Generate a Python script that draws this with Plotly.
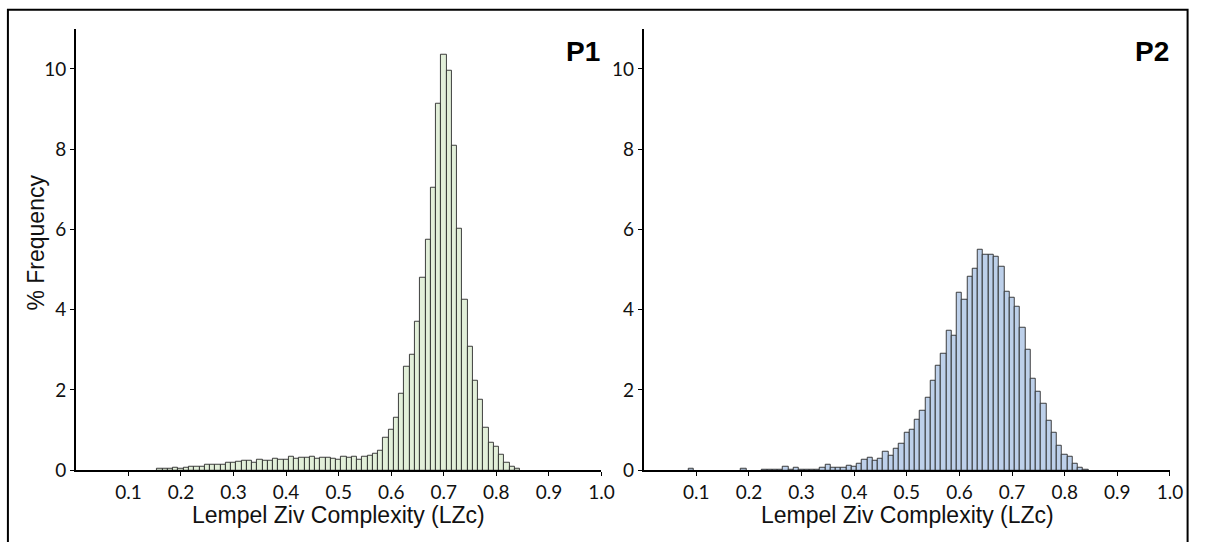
import plotly.graph_objects as go

# ---- data ----
p1_lzc = [0.16, 0.17, 0.18, 0.19, 0.20, 0.21, 0.22, 0.23, 0.24, 0.25, 0.26, 0.27, 0.28, 0.29,
          0.30, 0.31, 0.32, 0.33, 0.34, 0.35, 0.36, 0.37, 0.38, 0.39, 0.40, 0.41, 0.42, 0.43,
          0.44, 0.45, 0.46, 0.47, 0.48, 0.49, 0.50, 0.51, 0.52, 0.53, 0.54, 0.55, 0.56, 0.57,
          0.58, 0.59, 0.60, 0.61, 0.62, 0.63, 0.64, 0.65, 0.66, 0.67, 0.68, 0.69, 0.70, 0.71,
          0.72, 0.73, 0.74, 0.75, 0.76, 0.77, 0.78, 0.79, 0.80, 0.81, 0.82, 0.83, 0.84]
p1_freq = [0.05, 0.05, 0.05, 0.07, 0.04, 0.07, 0.10, 0.10, 0.10, 0.15, 0.15, 0.15, 0.13, 0.19,
           0.19, 0.21, 0.24, 0.24, 0.18, 0.26, 0.24, 0.24, 0.29, 0.26, 0.26, 0.34, 0.28, 0.31,
           0.31, 0.34, 0.28, 0.31, 0.31, 0.29, 0.26, 0.34, 0.32, 0.34, 0.26, 0.33, 0.37, 0.41,
           0.49, 0.81, 1.01, 1.32, 1.91, 2.57, 2.87, 3.69, 4.80, 5.75, 7.05, 9.14, 10.36, 9.96,
           8.08, 6.01, 4.25, 3.08, 2.23, 1.75, 1.07, 0.68, 0.59, 0.38, 0.18, 0.08, 0.03]

p2_lzc = [0.09, 0.19, 0.23, 0.24, 0.25, 0.26, 0.27, 0.28, 0.29, 0.30, 0.31, 0.32, 0.33, 0.34,
          0.35, 0.36, 0.37, 0.38, 0.39, 0.40, 0.41, 0.42, 0.43, 0.44, 0.45, 0.46, 0.47, 0.48,
          0.49, 0.50, 0.51, 0.52, 0.53, 0.54, 0.55, 0.56, 0.57, 0.58, 0.59, 0.60, 0.61, 0.62,
          0.63, 0.64, 0.65, 0.66, 0.67, 0.68, 0.69, 0.70, 0.71, 0.72, 0.73, 0.74, 0.75, 0.76,
          0.77, 0.78, 0.79, 0.80, 0.81, 0.82, 0.83, 0.84]
p2_freq = [0.03, 0.03, 0.015, 0.015, 0.015, 0.015, 0.08, 0.02, 0.06, 0.02, 0.02, 0.02, 0.02, 0.06,
           0.14, 0.06, 0.06, 0.06, 0.12, 0.08, 0.16, 0.26, 0.31, 0.24, 0.30, 0.46, 0.36, 0.53,
           0.67, 0.93, 1.01, 1.26, 1.48, 1.82, 2.23, 2.61, 2.91, 3.47, 3.34, 4.42, 4.25, 4.81,
           5.03, 5.49, 5.36, 5.36, 5.32, 5.06, 4.45, 4.31, 4.07, 3.55, 3.01, 2.29, 1.95, 1.66,
           1.23, 0.93, 0.62, 0.40, 0.34, 0.16, 0.06, 0.01]

x_ticks = [0.1, 0.2, 0.3, 0.4, 0.5, 0.6, 0.7, 0.8, 0.9, 1.0]
x_ticktext = ["0.1", "0.2", "0.3", "0.4", "0.5", "0.6", "0.7", "0.8", "0.9", "1.0"]
y_ticks = [0, 2, 4, 6, 8, 10]
panel_labels = ["P1", "P2"]
x_title = "Lempel Ziv Complexity (LZc)"
y_title = "% Frequency"

W, H = 1209, 542
def px(x):
    return x / W
def py(y):
    return 1 - y / H

fig = go.Figure()
fig.add_trace(go.Bar(x=p1_lzc, y=p1_freq, width=0.01, xaxis="x", yaxis="y",
                     marker=dict(color="#e2efd9", line=dict(color="#2a2a2a", width=0.9)),
                     showlegend=False))
fig.add_trace(go.Bar(x=p2_lzc, y=p2_freq, width=0.01, xaxis="x2", yaxis="y2",
                     marker=dict(color="#bdd0ea", line=dict(color="#2a2a2a", width=0.9)),
                     showlegend=False))

tickfont = dict(family="Lato", size=19, color="#111")
xcommon = dict(range=[0, 1.0], tickvals=x_ticks, ticktext=x_ticktext, showline=True,
               linecolor="black", linewidth=1.6, ticks="outside", ticklen=4, tickwidth=1.2,
               tickcolor="black", showgrid=False, zeroline=False, tickfont=tickfont, fixedrange=True)
ycommon = dict(range=[0, 11], tickvals=y_ticks, showline=True, linecolor="black", linewidth=1.6,
               ticks="outside", ticklen=4, tickwidth=1.2, tickcolor="black", showgrid=False,
               zeroline=False, tickfont=tickfont, domain=[py(480), py(29.3)], fixedrange=True)

fig.update_layout(
    width=W, height=H, autosize=False,
    margin=dict(l=0, r=0, t=0, b=0),
    paper_bgcolor="white", plot_bgcolor="white",
    bargap=0,
    xaxis=dict(domain=[px(76.7), px(608)], anchor="y", **xcommon),
    xaxis2=dict(domain=[px(650.7), px(1182.7)], anchor="y2", **xcommon),
    yaxis=dict(anchor="x", **ycommon),
    yaxis2=dict(anchor="x2", **ycommon),
    shapes=[dict(type="rect", xref="paper", yref="paper", x0=px(8), x1=px(1200.5),
                 y0=-0.05, y1=py(10), line=dict(color="black", width=2))],
    annotations=[
        dict(text="<b>%s</b>" % panel_labels[0], x=px(609), y=py(53), xref="paper", yref="paper",
             xanchor="right", yanchor="middle", showarrow=False,
             font=dict(family="Liberation Sans", size=28, color="black")),
        dict(text="<b>%s</b>" % panel_labels[1], x=px(1184), y=py(53), xref="paper", yref="paper",
             xanchor="right", yanchor="middle", showarrow=False,
             font=dict(family="Liberation Sans", size=28, color="black")),
        dict(text=x_title, x=px(342), y=py(526), xref="paper", yref="paper",
             xanchor="center", yanchor="middle", showarrow=False,
             font=dict(family="Liberation Sans", size=23, color="#111")),
        dict(text=x_title, x=px(917), y=py(526), xref="paper", yref="paper",
             xanchor="center", yanchor="middle", showarrow=False,
             font=dict(family="Liberation Sans", size=23, color="#111")),
        dict(text=y_title, x=px(36), y=py(248), xref="paper", yref="paper",
             xanchor="center", yanchor="middle", showarrow=False, textangle=-90,
             font=dict(family="Liberation Sans", size=23, color="#111")),
    ],
)

fig.write_html("out.html")
